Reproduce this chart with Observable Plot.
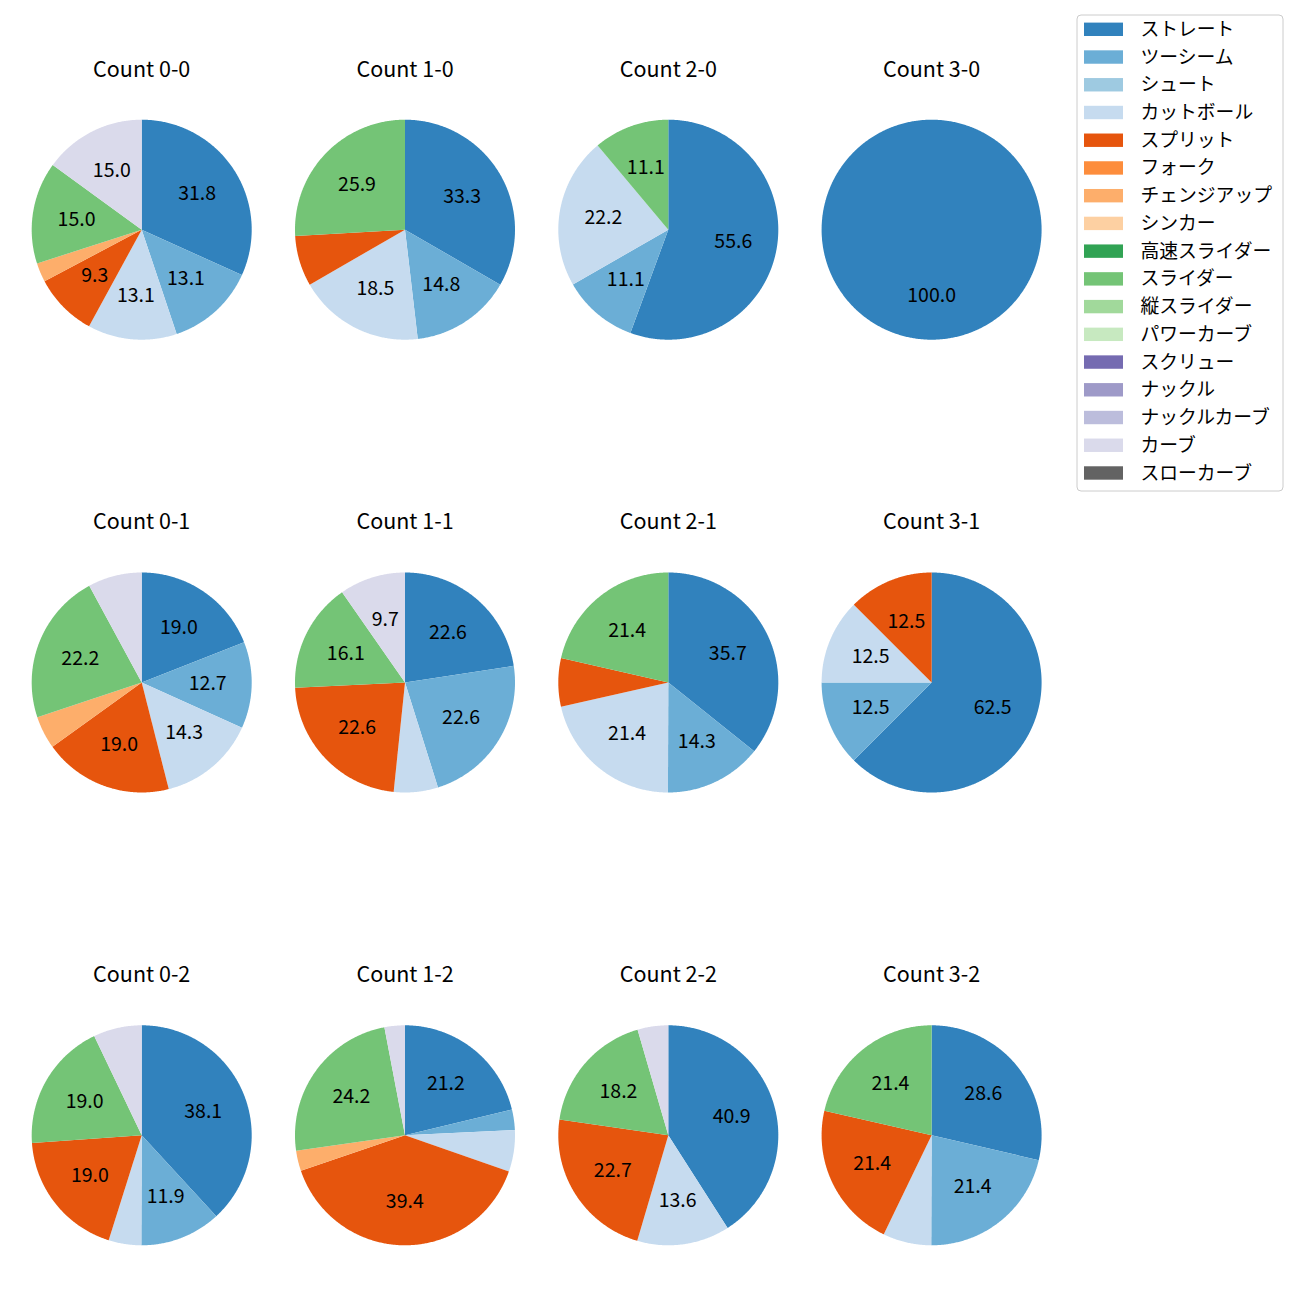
<!DOCTYPE html>
<html><head><meta charset="utf-8">
<script src="https://cdn.jsdelivr.net/npm/d3@7"></script>
<script src="https://cdn.jsdelivr.net/npm/@observablehq/plot@0.6"></script>
<style>body{margin:0;background:#fff} #chart svg{display:block}</style>
</head><body><div id="chart"></div>
<script>
// pitch types (legend order) and their colours
const pitchTypes = ["ストレート","ツーシーム","シュート","カットボール","スプリット","フォーク","チェンジアップ","シンカー","高速スライダー","スライダー","縦スライダー","パワーカーブ","スクリュー","ナックル","ナックルカーブ","カーブ","スローカーブ"];
const pitchColors = ["#3182bd","#6baed6","#9ecae1","#c6dbef","#e6550d","#fd8d3c","#fdae6b","#fdd0a2","#31a354","#74c476","#a1d99b","#c7e9c0","#756bb1","#9e9ac8","#bcbddc","#dadaeb","#636363"];

// count titles
const countLabels = ["0-0","1-0","2-0","3-0","0-1","1-1","2-1","3-1","0-2","1-2","2-2","3-2"];

// share (%) per pitch type, in pitchTypes order
const share00 = [31.8,13.1,0,13.1,9.3,0,2.8,0,0,15.0,0,0,0,0,0,15.0,0];
const share10 = [33.3,14.8,0,18.5,7.4,0,0,0,0,25.9,0,0,0,0,0,0,0];
const share20 = [55.6,11.1,0,22.2,0,0,0,0,0,11.1,0,0,0,0,0,0,0];
const share30 = [100.0,0,0,0,0,0,0,0,0,0,0,0,0,0,0,0,0];
const share01 = [19.0,12.7,0,14.3,19.0,0,4.8,0,0,22.2,0,0,0,0,0,7.9,0];
const share11 = [22.6,22.6,0,6.5,22.6,0,0,0,0,16.1,0,0,0,0,0,9.7,0];
const share21 = [35.7,14.3,0,21.4,7.1,0,0,0,0,21.4,0,0,0,0,0,0,0];
const share31 = [62.5,12.5,0,12.5,12.5,0,0,0,0,0,0,0,0,0,0,0,0];
const share02 = [38.1,11.9,0,4.8,19.0,0,0,0,0,19.0,0,0,0,0,0,7.1,0];
const share12 = [21.2,3.0,0,6.1,39.4,0,3.0,0,0,24.2,0,0,0,0,0,3.0,0];
const share22 = [40.9,0,0,13.6,22.7,0,0,0,0,18.2,0,0,0,0,0,4.5,0];
const share32 = [28.6,21.4,0,7.1,21.4,0,0,0,0,21.4,0,0,0,0,0,0,0];

const shares = [share00,share10,share20,share30,share01,share11,share21,share31,share02,share12,share22,share32];

// layout
const col0 = 141.2, colStep = 263.3, row0 = 229.2, rowStep = 452.8, R = 110;
const labelMin = 9;

const wedgePts = [], labels = [], titles = [];
shares.forEach((vals, i) => {
  const cx = col0 + (i % 4) * colStep;
  const cy = row0 + Math.floor(i / 4) * rowStep;
  titles.push({x: cx, y: cy - 160, text: "Count " + countLabels[i]});
  const total = d3.sum(vals);
  let acc = 0;
  vals.forEach((v, k) => {
    if (v <= 0) return;
    const a0 = acc / total * 2 * Math.PI;
    acc += v;
    const a1 = acc / total * 2 * Math.PI;
    const id = i + "-" + k;
    const pitch = pitchTypes[k];
    if (a1 - a0 < 2 * Math.PI - 1e-9) wedgePts.push({id, pitch, x: cx, y: cy});
    const n = Math.max(2, Math.ceil((a1 - a0) / (Math.PI / 360)));
    for (let j = 0; j <= n; j++) {
      const t = a0 + (a1 - a0) * j / n;
      wedgePts.push({id, pitch, x: cx + R * Math.sin(t), y: cy - R * Math.cos(t)});
    }
    const pct = v / total * 100;
    if (pct >= labelMin) {
      const m = (a0 + a1) / 2;
      labels.push({x: cx + 0.6 * R * Math.sin(m), y: cy - 0.6 * R * Math.cos(m), text: pct.toFixed(1)});
    }
  });
});

// legend
const legX0 = 1077, legX1 = 1283, legY0 = 15, legY1 = 491, legFirst = 29.3, legStep = 27.73;
const legendItems = pitchTypes.map((p, k) => ({pitch: p, y: legFirst + k * legStep}));

const font = "'Noto Sans CJK JP', 'Noto Sans', sans-serif";
const chart = Plot.plot({
  width: 1300, height: 1300, margin: 0,
  x: {domain: [0, 1300], range: [0, 1300], axis: null},
  y: {domain: [0, 1300], range: [0, 1300], axis: null},
  color: {type: "ordinal", domain: pitchTypes, range: pitchColors},
  style: {fontFamily: font, background: "#fff", overflow: "visible"},
  marks: [
    Plot.line(wedgePts, {x: "x", y: "y", z: "id", fill: "pitch", stroke: "none", curve: "linear"}),
    Plot.text(labels, {x: "x", y: "y", text: "text", fontSize: 19.5, fill: "#000", textAnchor: "middle", lineAnchor: "middle"}),
    Plot.text(titles, {x: "x", y: "y", text: "text", fontSize: 21.5, fill: "#000", textAnchor: "middle", lineAnchor: "middle"}),
    Plot.rect([{}], {x1: legX0, x2: legX1, y1: legY0, y2: legY1, fill: "#fff", fillOpacity: 0.8, stroke: "#cccccc", strokeWidth: 1, rx: 4}),
    Plot.rect(legendItems, {x1: 1084, x2: 1123, y1: d => d.y - 6.7, y2: d => d.y + 6.7, fill: "pitch"}),
    Plot.text(legendItems, {x: 1140, y: "y", text: "pitch", fontSize: 18.8, fill: "#000", textAnchor: "start", lineAnchor: "middle"})
  ]
});
document.getElementById("chart").appendChild(chart);
</script>
</body></html>
